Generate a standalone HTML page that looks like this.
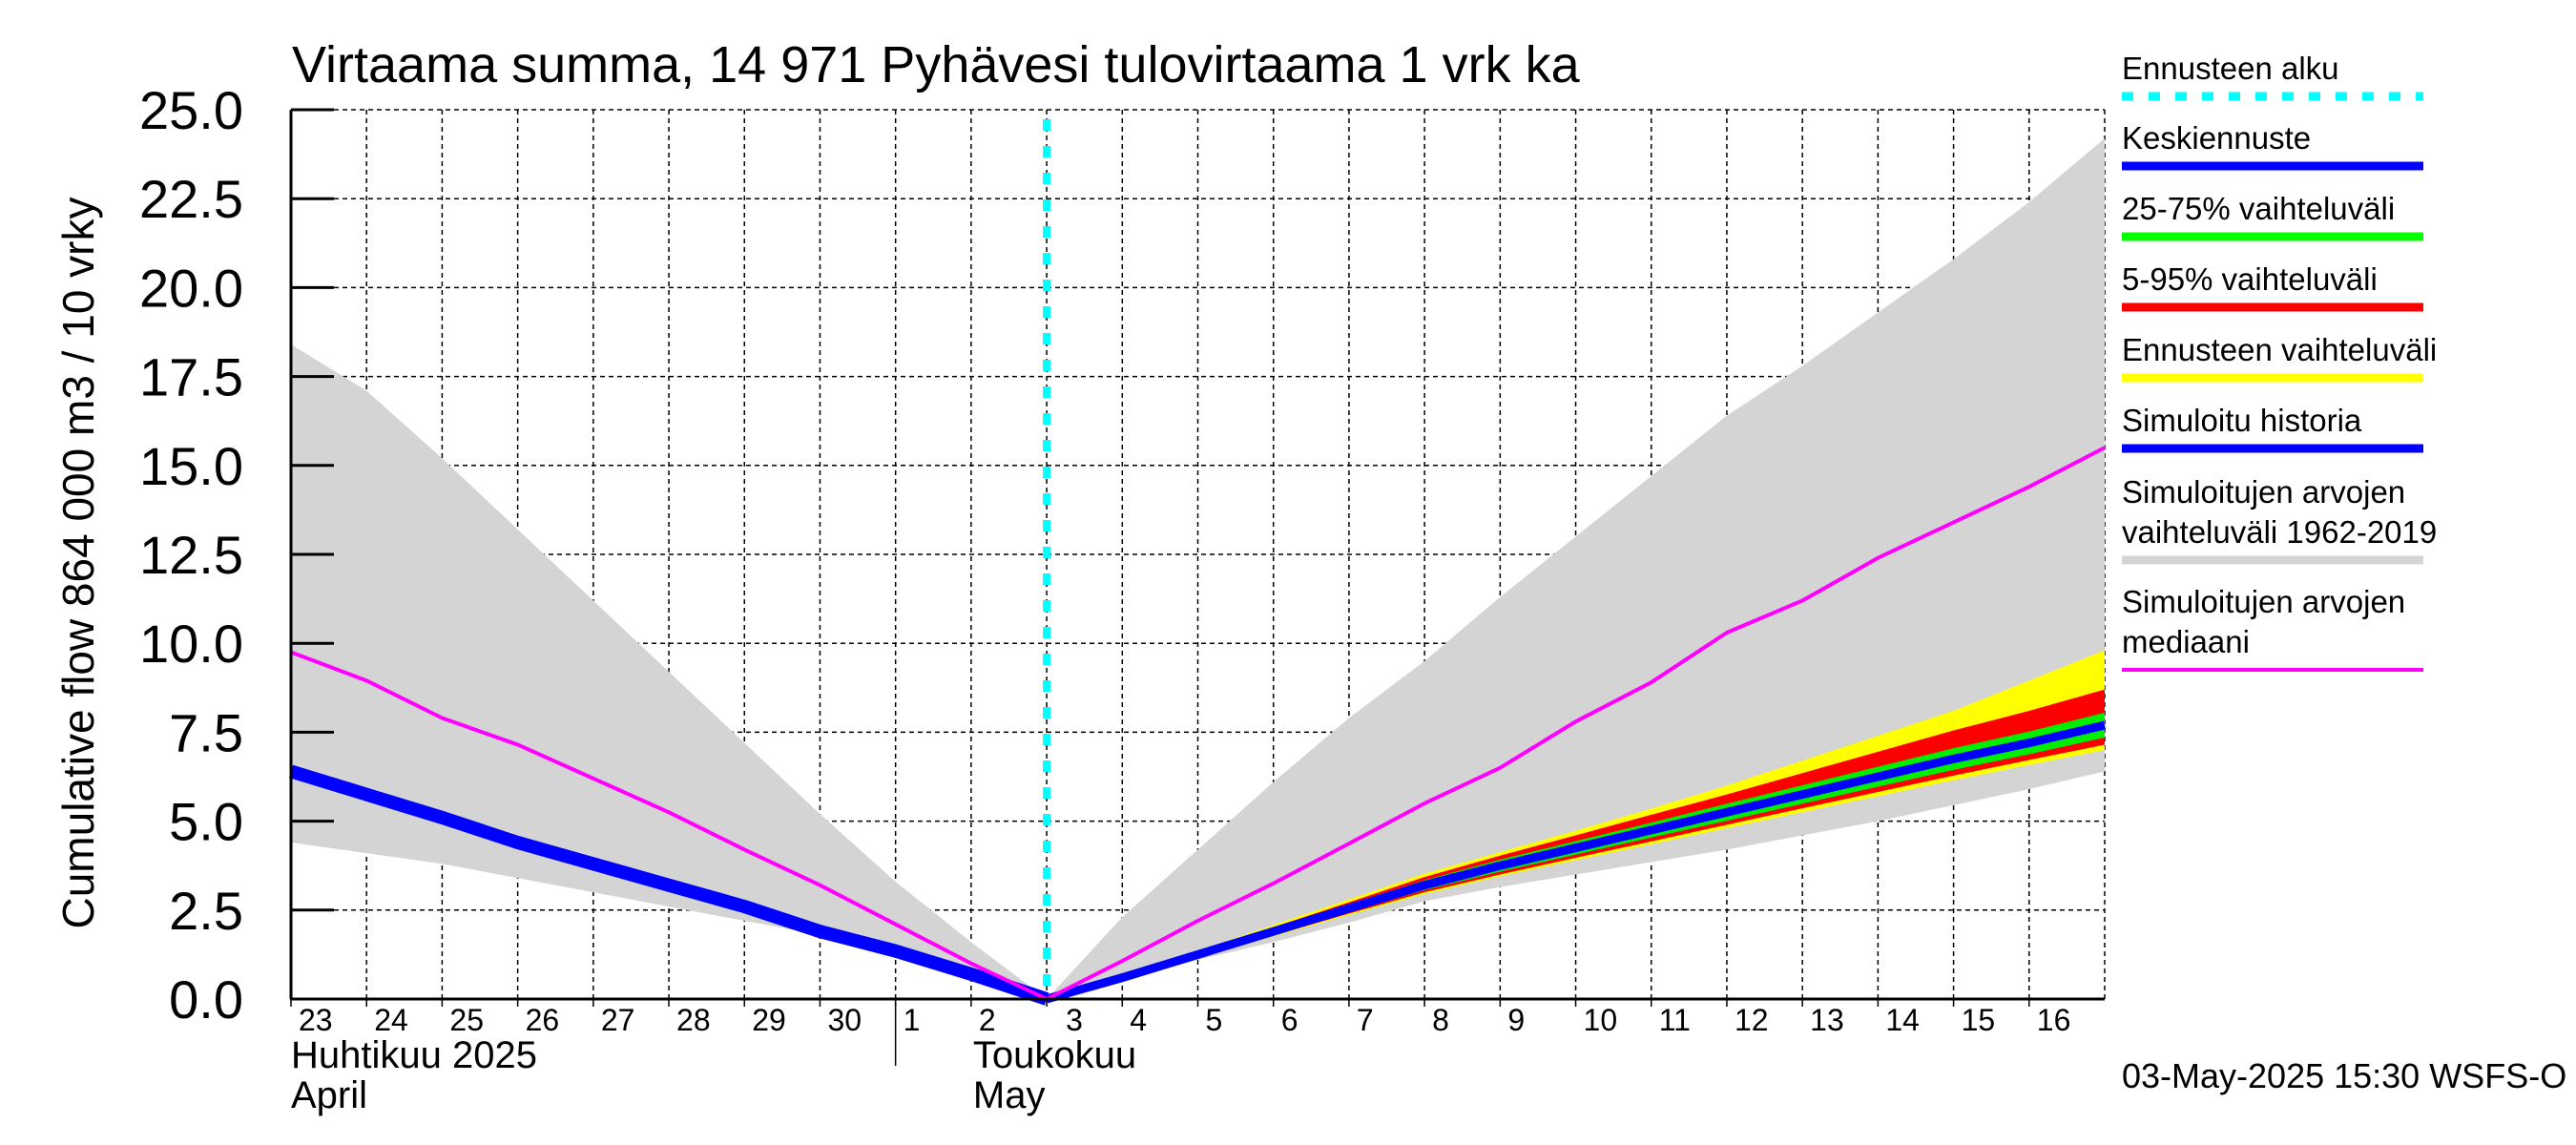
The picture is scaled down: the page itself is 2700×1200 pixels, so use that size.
<!DOCTYPE html>
<html><head><meta charset="utf-8"><style>
html,body{margin:0;padding:0;background:#fff;}
svg{display:block;font-family:"Liberation Sans",sans-serif;}
</style></head><body>
<svg id="chart" width="2700" height="1200" viewBox="0 0 2700 1200" xmlns="http://www.w3.org/2000/svg">
<text x="306" y="86" font-size="54">Virtaama summa, 14 971 Pyhävesi tulovirtaama 1 vrk ka</text>
<text transform="translate(98,590) rotate(-90)" text-anchor="middle" font-size="46">Cumulative flow     864 000 m3 / 10 vrky</text>
<g id="plot"></g>
<g id="axes"></g>
<g id="legend"></g>
<text x="2224" y="1140" font-size="36">03-May-2025 15:30 WSFS-O</text>
</svg>
<script>
// ---- data ----
const dayLabels = ["23","24","25","26","27","28","29","30","1","2","3","4","5","6","7","8","9","10","11","12","13","14","15","16"];
const yTicks = [0,2.5,5,7.5,10,12.5,15,17.5,20,22.5,25];
const forecastStartDay = 10;
// history (days 0..10)
const histGrayHi = [18.4,17.1,15.2,13.2,11.2,9.2,7.2,5.2,3.3,1.6,0];
const histGrayLo = [4.4,4.1,3.8,3.4,3.0,2.6,2.2,1.8,1.3,0.7,0];
const histMedian = [9.75,8.95,7.9,7.15,6.2,5.25,4.2,3.2,2.1,1.0,0];
const histSim = [6.4,5.75,5.1,4.4,3.8,3.2,2.6,1.9,1.35,0.7,0];
// forecast (days 10..24)
const fcGrayHi = [0,2.3,4.2,6.1,7.9,9.5,11.3,13.0,14.7,16.4,17.8,19.3,20.8,22.4,24.2];
const fcGrayLo = [0,0.55,1.1,1.6,2.15,2.75,3.15,3.5,3.85,4.2,4.6,5.0,5.45,5.9,6.4];
const fcMedianHist = [0,1.07,2.2,3.25,4.37,5.5,6.5,7.8,8.9,10.3,11.2,12.4,13.4,14.4,15.5];
const fcYellowHi = [0,0.65,1.36,2.08,2.8,3.52,4.13,4.73,5.35,6.0,6.7,7.4,8.1,8.95,9.8];
const fcYellowLo = [0,0.56,1.16,1.76,2.36,2.95,3.45,3.9,4.35,4.8,5.25,5.7,6.15,6.58,7.0];
const fcRedHi = [0,0.63,1.32,2.02,2.72,3.43,4.03,4.6,5.18,5.75,6.35,6.95,7.55,8.1,8.7];
const fcRedLo = [0,0.57,1.18,1.79,2.4,3.0,3.5,3.97,4.43,4.9,5.36,5.82,6.28,6.72,7.15];
const fcGreenHi = [0,0.62,1.3,1.98,2.66,3.34,3.92,4.44,4.96,5.49,6.01,6.53,7.05,7.52,8.05];
const fcGreenLo = [0,0.58,1.2,1.82,2.44,3.06,3.58,4.06,4.54,5.01,5.49,5.97,6.44,6.88,7.35];
const fcMean = [0,0.6,1.25,1.9,2.55,3.2,3.75,4.25,4.75,5.25,5.75,6.25,6.75,7.2,7.7];

// ---- axes ----
const NS="http://www.w3.org/2000/svg";
const X0=305, X1=2206, Y0=1047, Y1=115, NDAYS=24, YMAX=25;
const xs = d => X0 + d*(X1-X0)/NDAYS;
const ys = v => Y0 - v*(Y0-Y1)/YMAX;
function mk(tag, attrs, parent){const e=document.createElementNS(NS,tag);for(const k in attrs)e.setAttribute(k,attrs[k]);parent.appendChild(e);return e;}
const plot=document.getElementById('plot'), axes=document.getElementById('axes'), legend=document.getElementById('legend');

function band(hi, lo, off, color, name){
  let pts=[];
  hi.forEach((v,i)=>pts.push(xs(i+off)+','+ys(v)));
  for(let i=lo.length-1;i>=0;i--) pts.push(xs(i+off)+','+ys(lo[i]));
  const p=mk('polygon',{points:pts.join(' '),fill:color},plot);
  
  
}
function line(vals, off, color, w, name){
  const pts=vals.map((v,i)=>xs(i+off)+','+ys(v)).join(' ');
  const p=mk('polyline',{points:pts,fill:'none',stroke:color,'stroke-width':w,'stroke-linejoin':'round'},plot);
  
  
}
// grid
for(let d=1; d<=NDAYS; d++){
  const g=mk('line',{x1:xs(d),x2:xs(d),y1:Y1,y2:Y0,stroke:'#000','stroke-width':1.5,'stroke-dasharray':'5,4'},plot);
  
  
}
yTicks.forEach(v=>{ if(v>0){
  const g=mk('line',{x1:X0,x2:X1,y1:ys(v),y2:ys(v),stroke:'#000','stroke-width':1.5,'stroke-dasharray':'5,4'},plot);
  
  
}});
// series
band(histGrayHi,histGrayLo,0,'#d4d4d4','history-range-band');
band(fcGrayHi,fcGrayLo,forecastStartDay,'#d4d4d4','sim-range-band');
band(fcYellowHi,fcYellowLo,forecastStartDay,'#ffff00','forecast-range-band');
band(fcRedHi,fcRedLo,forecastStartDay,'#ff0000','band-5-95');
band(fcGreenHi,fcGreenLo,forecastStartDay,'#00ee00','band-25-75');
line(histSim,0,'#0000ff',14,'simulated-history-line');
line(fcMean,forecastStartDay,'#0000ff',9,'mean-forecast-line');
line(histMedian,0,'#ff00ff',4,'sim-median-history-line');
line(fcMedianHist,forecastStartDay,'#ff00ff',4,'sim-median-forecast-line');
// forecast start
const fs=mk('line',{x1:xs(forecastStartDay),x2:xs(forecastStartDay),y1:Y1+10,y2:Y0,stroke:'#00ffff','stroke-width':8,'stroke-dasharray':'12,16'},plot);


// axes lines
mk('line',{x1:X0,x2:X0,y1:Y1,y2:Y0,stroke:'#000','stroke-width':3},axes);
mk('line',{x1:X0-1,x2:X1,y1:Y0,y2:Y0,stroke:'#000','stroke-width':3},axes);
yTicks.forEach(v=>{
  mk('line',{x1:X0,x2:X0+45,y1:ys(v),y2:ys(v),stroke:'#000','stroke-width':3},axes);
  const t=mk('text',{x:255,y:ys(v)+20,'text-anchor':'end','font-size':56},axes);
  t.textContent=v.toFixed(1);
  
  
});
dayLabels.forEach((s,i)=>{
  mk('line',{x1:xs(i),x2:xs(i),y1:Y0,y2:Y0+8,stroke:'#000','stroke-width':1.5},axes);
  const t=mk('text',{x:xs(i)+(i===10?20:8),y:1080,'font-size':32},axes);
  t.textContent=s;
  
  
});
mk('line',{x1:xs(8),x2:xs(8),y1:Y0,y2:1117,stroke:'#000','stroke-width':1.5},axes);
[["Huhtikuu  2025",xs(0),1119],["April",xs(0),1161],["Toukokuu",xs(9)+2,1119],["May",xs(9)+2,1161]].forEach(a=>{
  const t=mk('text',{x:a[1],y:a[2],'font-size':40,'xml:space':'preserve'},axes);
  t.textContent=a[0];
  
  
});
// legend
const legItems=[
 [["Ennusteen alku"],'#00ffff',101,true],
 [["Keskiennuste"],'#0000ff',174],
 [["25-75% vaihteluväli"],'#00ff00',248],
 [["5-95% vaihteluväli"],'#ff0000',322],
 [["Ennusteen vaihteluväli"],'#ffff00',396],
 [["Simuloitu historia"],'#0000ff',470],
 [["Simuloitujen arvojen","vaihteluväli 1962-2019"],'#d4d4d4',587],
 [["Simuloitujen arvojen","mediaani"],'#ff00ff',702,false,4]
];
legItems.forEach(it=>{
  const g=mk('g',{},legend);
  
  
  const lines=it[0], n=lines.length;
  lines.forEach((s,k)=>{
    const t=mk('text',{x:2224,y:it[2]-18-(n-1-k)*42,'font-size':33},g);
    t.textContent=s;
  });
  const a={x1:2224,x2:2540,y1:it[2],y2:it[2],stroke:it[1],'stroke-width':it[4]||9};
  if(it[3]) a['stroke-dasharray']='12,16';
  mk('line',a,g);
});
</script>
</body></html>
